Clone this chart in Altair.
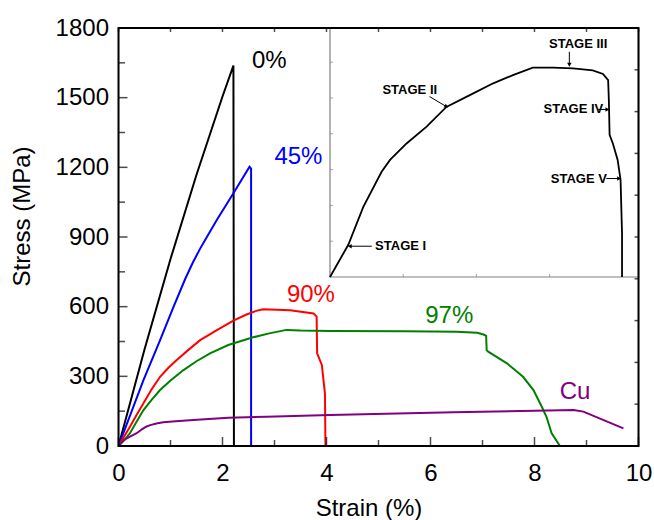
import altair as alt
import pandas as pd

# ---------------- main curves (strain %, stress MPa) ----------------
black_x = [0, 0.5, 1.0, 1.5, 2.0, 2.21, 2.22]
black_y = [0, 416, 805, 1168, 1505, 1638, 0]

blue_x = [0, 0.48, 0.80, 1.05, 1.28, 1.43, 1.57, 1.73, 1.89, 2.21, 2.52, 2.55, 2.55]
blue_y = [0, 284, 456, 595, 718, 790, 850, 912, 973, 1088, 1203, 1195, 0]

red_x = [0, 0.10, 0.22, 0.35, 0.48, 0.64, 0.80, 0.96, 1.12, 1.35, 1.57, 1.90, 2.21, 2.45, 2.65, 2.78,
         3.30, 3.75, 3.81, 3.82, 3.91, 3.97, 3.98]
red_y = [0, 38, 83, 135, 184, 245, 298, 337, 370, 415, 456, 500, 540, 565, 582, 589,
         585, 571, 557, 399, 349, 227, 0]

green_x = [0, 0.10, 0.22, 0.35, 0.48, 0.64, 0.80, 1.00, 1.25, 1.50, 1.76, 2.11, 2.59, 2.90, 3.23, 3.50,
           4.07, 5.50, 6.50, 6.90, 7.02, 7.07, 7.08, 7.11, 7.47, 7.78, 7.98, 8.14, 8.23, 8.33, 8.49]
green_y = [0, 22, 55, 105, 155, 200, 241, 282, 327, 365, 399, 435, 468, 485, 500, 497,
           495, 494, 492, 488, 480, 474, 413, 406, 356, 298, 241, 169, 126, 55, 0]

cu_x = [0, 0.10, 0.22, 0.35, 0.45, 0.53, 0.61, 0.73, 0.86, 1.10, 1.44, 2.11, 2.85, 4.07, 6.44, 8.75, 8.94, 9.71]
cu_y = [0, 25, 40, 55, 72, 83, 90, 97, 102, 107, 112, 122, 126, 134, 145, 155, 148, 76]

series_names = ["0%", "45%", "90%", "97%", "Cu"]
series_colors = ["#000000", "#0000ff", "#ff0000", "#008000", "#800080"]
label_x = [2.90, 3.46, 3.70, 6.36, 8.78]
label_y = [1658, 1245, 650, 561, 233]

# axis ticks (main)
x_major = [0, 2, 4, 6, 8, 10]
x_minor = [1, 3, 5, 7, 9]
x_top = [0, 1, 2, 3, 4, 5, 6, 7, 8, 9, 10]
y_major = [0, 300, 600, 900, 1200, 1500, 1800]
y_minor = [150, 450, 750, 1050, 1350, 1650]
y_right = [0, 180, 360, 540, 720, 900, 1080, 1260, 1440, 1620, 1800]

# ---------------- inset (arbitrary units) ----------------
inset_x = [0, 0.25, 0.455, 0.705, 0.82, 1.046, 1.32, 1.59, 1.91, 2.23, 2.5, 2.77, 3.05, 3.32,
           3.59, 3.73, 3.80, 3.81, 3.82, 3.865, 3.93, 3.97, 3.98, 3.99, 3.99]
inset_y = [0, 0.9, 1.96, 2.94, 3.27, 3.73, 4.2, 4.75, 5.08, 5.41, 5.64, 5.85, 5.85, 5.83,
           5.77, 5.67, 5.50, 4.94, 3.97, 3.73, 3.27, 2.71, 1.96, 1.22, 0]
inset_xmax = 4.215
inset_ymax = 6.955
inset_xticks = [1, 2, 3]
inset_yticks = [1, 2, 3, 4, 5, 6]

stage_text = ["STAGE I", "STAGE II", "STAGE III", "STAGE IV", "STAGE V"]
stage_tx = [0.965, 1.09, 3.39, 3.325, 3.40]
stage_ty = [0.86, 5.23, 6.52, 4.68, 2.75]
arrow_x0 = [0.57, 1.36, 3.27, 3.66, 3.775]
arrow_y0 = [0.86, 5.04, 6.29, 4.68, 2.75]
arrow_x1 = [0.27, 1.59, 3.27, 3.79, 3.95]
arrow_y1 = [0.86, 4.76, 5.93, 4.68, 2.75]
arrow_angle = [270, 121, 180, 90, 90]

FONT = "Liberation Sans"

# ---------------- data frames ----------------
rows = []
for name, xs_, ys_ in zip(series_names, [black_x, blue_x, red_x, green_x, cu_x],
                          [black_y, blue_y, red_y, green_y, cu_y]):
    for i, (a, b) in enumerate(zip(xs_, ys_)):
        rows.append({"series": name, "i": i, "strain": a, "stress": b})
df = pd.DataFrame(rows)
lab_df = pd.DataFrame({"series": series_names, "x": label_x, "y": label_y})

xs = alt.Scale(domain=[0, 10], nice=False, zero=False)
ys = alt.Scale(domain=[0, 1800], nice=False, zero=False)
color = alt.Color("series:N", scale=alt.Scale(domain=series_names, range=series_colors), legend=None)

x_axis = alt.Axis(orient="bottom", values=x_major, grid=False, ticks=False, domain=False, format="d",
                  labelFont=FONT, labelFontSize=24, labelColor="black", labelPadding=34,
                  labelBaseline="alphabetic", labelFlush=False, labelOverlap=False,
                  title="Strain (%)", titleFont=FONT, titleFontSize=24, titleFontWeight="normal",
                  titleColor="black", titleX=250, titleY=69, titleBaseline="alphabetic")
y_axis = alt.Axis(orient="left", values=y_major, grid=False, ticks=False, domain=False, format="d",
                  labelFont=FONT, labelFontSize=24, labelColor="black", labelPadding=10,
                  labelFlush=False, labelOverlap=False,
                  title="Stress (MPa)", titleFont=FONT, titleFontSize=24, titleFontWeight="normal",
                  titleColor="black", titleX=-89, titleY=188, titleBaseline="alphabetic", titleAngle=270)


def X(field):
    return alt.X(field, scale=xs, axis=x_axis)


def Y(field):
    return alt.Y(field, scale=ys, axis=y_axis)


lines = alt.Chart(df).mark_line(strokeWidth=2, clip=True).encode(
    x=X("strain:Q"), y=Y("stress:Q"), color=color, order=alt.Order("i:Q"))
labels = alt.Chart(lab_df).mark_text(font=FONT, fontSize=24).encode(
    x=X("x:Q"), y=Y("y:Q"), text="series:N", color=color)


def xticks(vals, base, size, off):
    d = pd.DataFrame({"v": vals, "b": [base] * len(vals)})
    return alt.Chart(d).mark_tick(orient="vertical", size=size, thickness=1.5, yOffset=off, color="black").encode(
        x=X("v:Q"), y=Y("b:Q"))


def yticks(vals, base, size, off):
    d = pd.DataFrame({"v": vals, "b": [base] * len(vals)})
    return alt.Chart(d).mark_tick(orient="horizontal", size=size, thickness=1.5, xOffset=off, color="black").encode(
        y=Y("v:Q"), x=X("b:Q"))


frame_df = pd.DataFrame({"x0": [0], "x1": [10], "y0": [0], "y1": [1800]})
frame = alt.Chart(frame_df).mark_rect(fillOpacity=0, stroke="black", strokeWidth=2).encode(
    x=X("x0:Q"), x2="x1:Q", y=Y("y0:Q"), y2="y1:Q")

main = alt.layer(
    lines, labels,
    xticks(x_major, 0, 9, -4.5), xticks(x_minor, 0, 6, -3), xticks(x_top, 1800, 4, 2),
    yticks(y_major, 0, 9, 4.5), yticks(y_minor, 0, 6.5, 3.25), yticks(y_right, 10, 4, -2),
    frame,
)

# ---------------- inset ----------------
ixs = alt.Scale(domain=[0, inset_xmax], range=[211.5, 520], nice=False, zero=False)
iys = alt.Scale(domain=[0, inset_ymax], range=[249, 0], nice=False, zero=False)

inset_df = pd.DataFrame({"i": list(range(len(inset_x))), "x": inset_x, "y": inset_y})
box_df = pd.DataFrame({"x0": [0], "x1": [inset_xmax], "y0": [0], "y1": [inset_ymax]})
stage_df = pd.DataFrame({"t": stage_text, "x": stage_tx, "y": stage_ty})
arrow_df = pd.DataFrame({"x0": arrow_x0, "y0": arrow_y0, "x1": arrow_x1, "y1": arrow_y1, "a": arrow_angle})


def IX(field):
    return alt.X(field, scale=ixs, axis=None)


def IY(field):
    return alt.Y(field, scale=iys, axis=None)


box = alt.Chart(box_df).mark_rect(fill="white", stroke="#808080", strokeWidth=1.2).encode(
    x=IX("x0:Q"), x2="x1:Q", y=IY("y0:Q"), y2="y1:Q")
icurve = alt.Chart(inset_df).mark_line(color="black", strokeWidth=1.8).encode(
    x=IX("x:Q"), y=IY("y:Q"), order="i:Q")
ixt = alt.Chart(pd.DataFrame({"v": inset_xticks, "b": [0] * len(inset_xticks)})).mark_tick(
    orient="vertical", size=3, thickness=1, yOffset=-1.5, color="#808080").encode(
    x=IX("v:Q"), y=IY("b:Q"))
iyt = alt.Chart(pd.DataFrame({"v": inset_yticks, "b": [0] * len(inset_yticks)})).mark_tick(
    orient="horizontal", size=3, thickness=1, xOffset=1.5, color="#808080").encode(
    y=IY("v:Q"), x=IX("b:Q"))
arrows = alt.Chart(arrow_df).mark_rule(color="black", strokeWidth=1).encode(
    x=IX("x0:Q"), x2="x1:Q", y=IY("y0:Q"), y2="y1:Q")
heads = alt.Chart(arrow_df).mark_point(shape="triangle-up", filled=True, color="black", size=20, opacity=1).encode(
    x=IX("x1:Q"), y=IY("y1:Q"), angle=alt.Angle("a:Q", scale=None))
stages = alt.Chart(stage_df).mark_text(font=FONT, fontSize=13, fontWeight="bold", color="black").encode(
    x=IX("x:Q"), y=IY("y:Q"), text="t:N")

inset = alt.layer(box, icurve, ixt, iyt, arrows, heads, stages)

chart = alt.layer(inset, main).resolve_scale(x="independent", y="independent").resolve_axis(
    x="independent", y="independent").properties(
    width=520, height=418, autosize="none",
    padding={"left": 118.5, "top": 28, "right": 15.5, "bottom": 74},
).configure_view(strokeWidth=0).configure(background="white")

chart.save("out.html", embed_options={"renderer": "svg", "actions": False})
